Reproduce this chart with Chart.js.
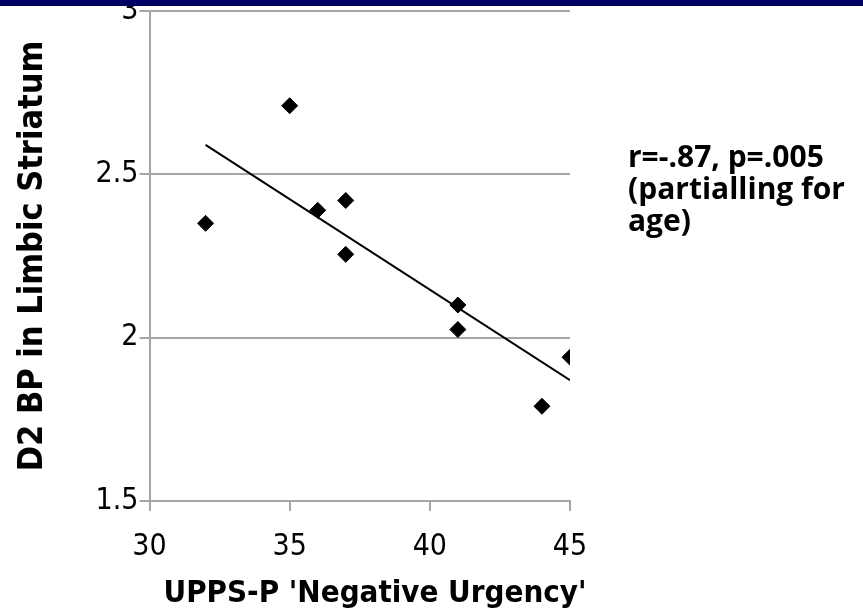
<!DOCTYPE html>
<html>
<head>
<meta charset="utf-8">
<script src="https://cdn.jsdelivr.net/npm/chart.js@4"></script>
<style>
  html, body { margin: 0; padding: 0; background: #fff; }
  #wrap { position: relative; width: 863px; height: 609px; }
</style>
</head>
<body>
<div id="wrap"><canvas id="chart" width="863" height="609"></canvas></div>
<script>
// values
const urgency   = [32, 35, 36, 37, 37, 41, 41, 44, 45];
const bindingD2 = [2.35, 2.71, 2.39, 2.42, 2.255, 2.10, 2.025, 1.79, 1.94];
const trendX = [32, 45];
const trendY = [2.59, 1.87];
const xTicks = [30, 35, 40, 45];
const yTicks = [1.5, 2, 2.5, 3];
const xTitle = "UPPS-P 'Negative Urgency'";
const yTitle = 'D2 BP in Limbic Striatum';
const statsNote = ['r=-.87, p=.005', '(partialling for', 'age)'];

const gridGrey = '#a6a6a6';
const tickFont = { family: 'DejaVu Sans Condensed', size: 30 };
const yTitleFont = { family: 'DejaVu Sans Condensed', size: 34, weight: 'bold' };

// blue strip along the top, x title (sits a bit right of centre) and the stats note
const extras = {
    id: 'extras',
    afterDraw(chart) {
        const ctx = chart.ctx;
        ctx.save();
        ctx.fillStyle = '#000066';
        ctx.fillRect(0, 0, chart.width, 6);

        ctx.fillStyle = '#000';
        ctx.font = 'bold 31px "DejaVu Sans Condensed"';
        ctx.textAlign = 'center';
        ctx.textBaseline = 'alphabetic';
        ctx.fillText(xTitle, 375, 602);

        ctx.font = 'bold 30px "Open Sans"';
        ctx.textAlign = 'left';
        statsNote.forEach((line, i) => ctx.fillText(line, 628, 167 + i * 32));
        ctx.restore();
    }
};

new Chart(document.getElementById('chart').getContext('2d'), {
    type: 'scatter',
    data: {
        datasets: [
            {
                data: urgency.map((x, i) => ({ x: x, y: bindingD2[i] })),
                pointStyle: 'rectRot',
                pointRadius: 8,
                backgroundColor: '#000',
                borderColor: '#000',
                borderWidth: 1
            },
            {
                type: 'line',
                data: trendX.map((x, i) => ({ x: x, y: trendY[i] })),
                borderColor: '#000',
                borderWidth: 2,
                pointRadius: 0,
                fill: false
            }
        ]
    },
    options: {
        responsive: false,
        animation: false,
        devicePixelRatio: 1,
        layout: { padding: { top: 11, right: 293, left: 0, bottom: 0 } },
        plugins: { legend: { display: false }, tooltip: { enabled: false } },
        scales: {
            x: {
                type: 'linear',
                min: 30, max: 45,
                afterBuildTicks: s => { s.ticks = xTicks.map(v => ({ value: v })); },
                afterFit: s => { s.height = 108; s.paddingLeft = 0; s.paddingRight = 0; },
                grid: { drawOnChartArea: false, drawTicks: true, tickLength: 10, color: gridGrey, lineWidth: 2 },
                border: { color: gridGrey, width: 2 },
                ticks: { color: '#000', font: tickFont, padding: 18, maxRotation: 0, callback: v => String(v) }
            },
            y: {
                type: 'linear',
                min: 1.5, max: 3,
                afterBuildTicks: s => { s.ticks = yTicks.map(v => ({ value: v })); },
                afterFit: s => { s.width = 149.5; s.paddingTop = 0; s.paddingBottom = 0; },
                grid: { drawTicks: true, tickLength: 10, color: gridGrey, lineWidth: 2 },
                border: { color: gridGrey, width: 2 },
                ticks: { color: '#000', font: tickFont, padding: 1, callback: v => String(v) },
                title: { display: true, text: yTitle, color: '#000', font: yTitleFont, padding: { top: 13, bottom: 0 } }
            }
        }
    },
    plugins: [extras]
});
</script>
</body>
</html>
